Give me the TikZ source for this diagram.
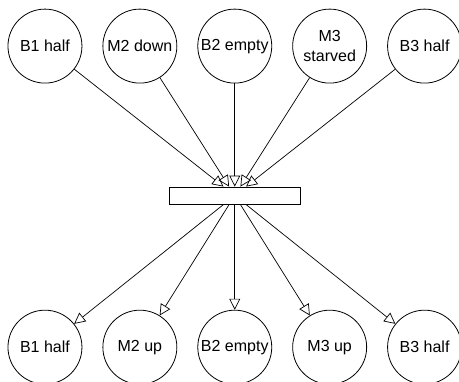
\documentclass[tikz,border=0pt]{standalone}
\usepackage{fontspec}
\setmainfont{Liberation Sans}
\usepackage{tikz}
\usetikzlibrary{arrows.meta, positioning}

\begin{document}
\begin{tikzpicture}[
    state/.style={draw, circle, line width=0.8pt, minimum size=2.6cm, inner sep=0pt, align=center, font=\fontsize{16}{19.5}\selectfont},
    trans/.style={draw, line width=0.8pt, minimum width=4.6cm, minimum height=0.6cm, inner sep=0pt},
    arr/.style={-{Triangle[open, length=11pt, width=11pt]}, line width=0.7pt}
]
\useasboundingbox (0,0) rectangle (16.13,-13.39);

\node[state] (b1pre) at (1.58,-1.62) {B1 half};
\node[state] (m2pre) at (4.915,-1.62) {M2 down};
\node[state] (b2pre) at (8.25,-1.62) {B2 empty};
\node[state] (m3pre) at (11.585,-1.62) {M3\\starved};
\node[state] (b3pre) at (14.92,-1.62) {B3 half};

\node[trans] (event) at (8.25,-6.87) {};

\node[state] (b1post) at (1.58,-12.2) {B1 half};
\node[state] (m2post) at (4.915,-12.2) {M2 up};
\node[state] (b2post) at (8.25,-12.2) {B2 empty};
\node[state] (m3post) at (11.585,-12.2) {M3 up};
\node[state] (b3post) at (14.92,-12.2) {B3 half};

\draw[arr] (b1pre) -- (event);
\draw[arr] (m2pre) -- (event);
\draw[arr] (b2pre) -- (event);
\draw[arr] (m3pre) -- (event);
\draw[arr] (b3pre) -- (event);
\draw[arr] (event) -- (b1post);
\draw[arr] (event) -- (m2post);
\draw[arr] (event) -- (b2post);
\draw[arr] (event) -- (m3post);
\draw[arr] (event) -- (b3post);
\end{tikzpicture}
\end{document}
